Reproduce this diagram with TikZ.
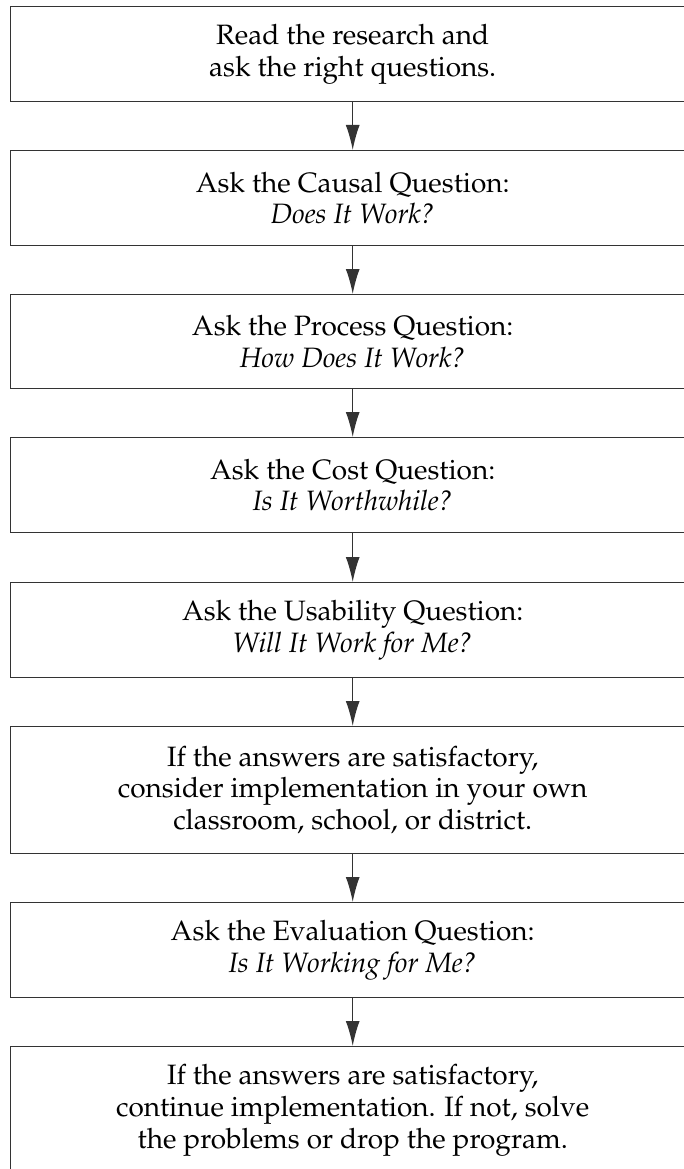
\documentclass[tikz,border=0pt]{standalone}
\usepackage[T1]{fontenc}
\usepackage{mathpazo}
\usetikzlibrary{arrows.meta}
\begin{document}
\begin{tikzpicture}[x=1pt,y=-1pt,
  stepbox/.style={draw=black!80, line width=1.3pt, rectangle, minimum width=684pt,
    inner sep=0pt, align=center, font=\fontsize{28}{31.7}\selectfont, anchor=north},
  flow/.style={draw=black!80, line width=1.3pt, -{Latex[length=25pt,width=14pt]}}]
\useasboundingbox (0,0) rectangle (684,1169);
\clip (0,0) rectangle (684,1169);
\fill[white] (0,0) rectangle (684,1169);
\node[stepbox, minimum height=95pt] (b1) at (352.7,6) {Read the research and\\ask the right questions.};
\node[stepbox, minimum height=95pt] (b2) at (352.7,150) {Ask the Causal Question:\\\textit{Does It Work?}};
\node[stepbox, minimum height=94pt] (b3) at (352.7,294) {Ask the Process Question:\\\textit{How Does It Work?}};
\node[stepbox, minimum height=95pt] (b4) at (352.7,437) {Ask the Cost Question:\\\textit{Is It Worthwhile?}};
\node[stepbox, minimum height=95pt] (b5) at (352.7,582) {Ask the Usability Question:\\\textit{Will It Work for Me?}};
\node[stepbox, minimum height=127pt] (b6) at (352.7,726) {If the answers are satisfactory,\\consider implementation in your own\\classroom, school, or district.};
\node[stepbox, minimum height=95pt] (b7) at (352.7,902) {Ask the Evaluation Question:\\\textit{Is It Working for Me?}};
\node[stepbox, minimum height=127pt] (b8) at (352.7,1046) {If the answers are satisfactory,\\continue implementation. If not, solve\\the problems or drop the program.};
\foreach \a/\b in {b1/b2,b2/b3,b3/b4,b4/b5,b5/b6,b6/b7,b7/b8}
  \draw[flow] (\a.south) -- (\b.north);
\end{tikzpicture}
\end{document}
